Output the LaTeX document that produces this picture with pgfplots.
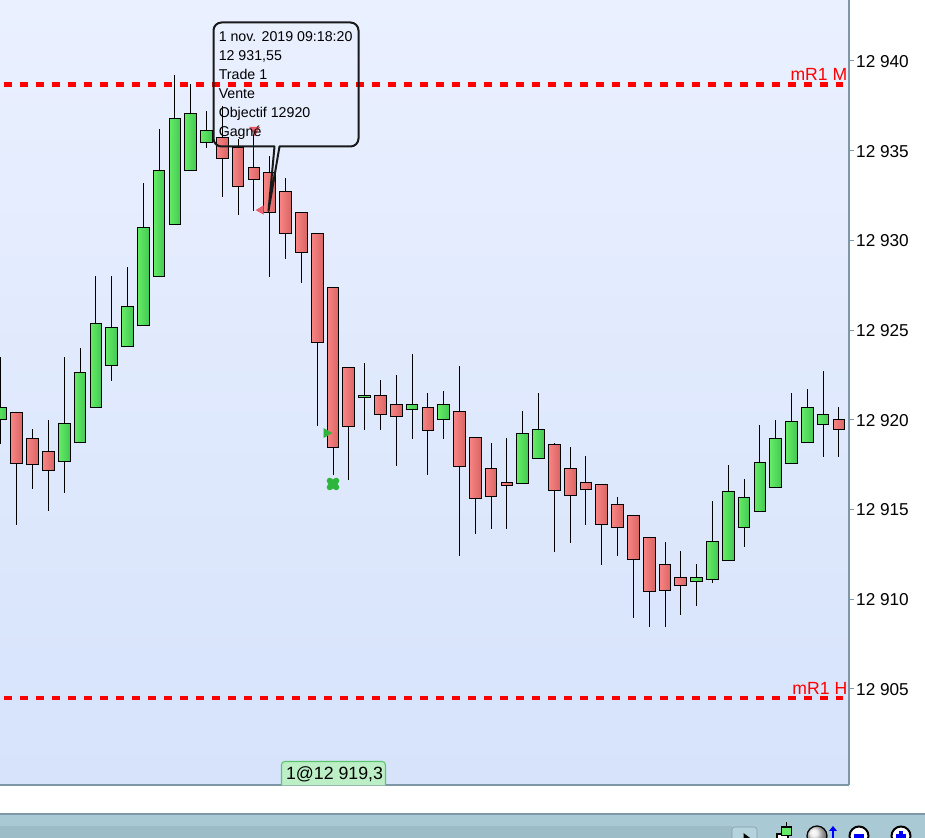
\documentclass[border=0pt]{standalone}
\usepackage{pgfplots}
\pgfplotsset{compat=1.18}
\usepackage{fontspec}
\setmainfont{Liberation Sans}
\definecolor{axisc}{HTML}{7E97A6}
\definecolor{bgtop}{HTML}{EAF0FF}
\definecolor{bgbot}{HTML}{D6E3FB}
\definecolor{rL}{HTML}{F98484}
\definecolor{rR}{HTML}{D86464}
\definecolor{gL}{HTML}{66EC66}
\definecolor{gR}{HTML}{42C852}
\definecolor{lvl}{HTML}{FF0000}
\definecolor{tradeg}{HTML}{2DB53C}
\definecolor{trader}{HTML}{E8505C}
\definecolor{barc}{HTML}{A9CAD5}
\definecolor{lbF}{HTML}{BDEFC7}
\definecolor{lbE}{HTML}{5DC66B}
\definecolor{tbdark}{HTML}{9CBCC7}
\definecolor{btn}{HTML}{B4D3DD}
\definecolor{btnD}{HTML}{7F9AA8}
\definecolor{ballc}{HTML}{E8E8E8}
\newcommand\candle[6]{%
  \pgfmathsetmacro\xl{#1-0.37}\pgfmathsetmacro\xr{#1+0.37}%
  \addplot[black,line width=.75pt,forget plot] coordinates {(#1,#4)(#1,#5)};
  \addplot[draw=black,line width=.75pt,left color=#6L,right color=#6R,forget plot]
    coordinates {(\xl,#2)(\xr,#2)(\xr,#3)(\xl,#3)} --cycle;
}
\begin{document}
\begin{tikzpicture}
\path[use as bounding box] (0pt,0pt) rectangle (693.75pt,628.5pt);
\begin{axis}[
  at={(0pt,39.75pt)}, anchor=south west,
  scale only axis, width=636.75pt, height=588.75pt,
  xmin=-0.0632, xmax=53.637, ymin=12899.64, ymax=12943.40,
  axis x line=bottom, axis y line=right,
  axis line style={-,draw=axisc,line width=.8pt},
  xtick=\empty,
  ytick={12905,12910,12915,12920,12925,12930,12935,12940},
  tick align=outside, major tick length=3.4pt,
  y tick style={draw=axisc,line width=.75pt},
  scaled y ticks=false,
  /pgf/number format/.cd, 1000 sep={\ }, assume math mode=true, /tikz/.cd,
  yticklabel style={font=\fontsize{12.9}{15}\selectfont,inner sep=0pt,xshift=1.8pt,yshift=-.4pt,text=black},
  axis background/.style={top color=bgtop,bottom color=bgbot},
]
\candle{0}{12920.71}{12920.04}{12923.50}{12918.65}{g}
\candle{1}{12920.38}{12917.54}{12920.38}{12914.14}{r}
\candle{2}{12918.93}{12917.48}{12919.49}{12916.14}{r}
\candle{3}{12918.21}{12917.15}{12919.99}{12914.92}{r}
\candle{4}{12919.77}{12917.70}{12923.50}{12915.92}{g}
\candle{5}{12922.66}{12918.76}{12924.00}{12918.76}{g}
\candle{6}{12925.34}{12920.71}{12928.02}{12920.71}{g}
\candle{7}{12925.12}{12923.00}{12928.02}{12922.16}{g}
\candle{8}{12926.34}{12924.06}{12928.52}{12924.06}{g}
\candle{9}{12930.69}{12925.23}{12933.20}{12925.23}{g}
\candle{10}{12933.92}{12927.96}{12936.21}{12927.96}{g}
\candle{11}{12936.77}{12930.91}{12939.22}{12930.91}{g}
\candle{12}{12937.10}{12933.87}{12938.72}{12933.87}{g}
\candle{13}{12936.10}{12935.48}{12937.21}{12935.15}{g}
\candle{14}{12935.76}{12934.54}{12937.49}{12932.42}{r}
\candle{15}{12935.15}{12933.03}{12935.65}{12931.42}{r}
\candle{16}{12934.09}{12933.42}{12936.15}{12931.64}{r}
\candle{17}{12933.76}{12931.58}{12934.70}{12927.96}{r}
\candle{18}{12932.70}{12930.36}{12933.48}{12928.96}{r}
\candle{19}{12931.53}{12929.30}{12931.53}{12927.63}{r}
\candle{20}{12930.41}{12924.28}{12930.41}{12919.65}{r}
\candle{21}{12927.35}{12918.43}{12927.35}{12916.92}{r}
\candle{22}{12922.89}{12919.60}{12922.89}{12916.64}{r}
\candle{23}{12921.38}{12921.22}{12923.17}{12919.43}{g}
\candle{24}{12921.33}{12920.32}{12922.22}{12919.43}{r}
\candle{25}{12920.83}{12920.16}{12922.50}{12917.42}{r}
\candle{26}{12920.83}{12920.55}{12923.67}{12918.93}{g}
\candle{27}{12920.66}{12919.38}{12921.49}{12916.92}{r}
\candle{28}{12920.83}{12919.99}{12921.61}{12918.93}{g}
\candle{29}{12920.44}{12917.42}{12923.00}{12912.41}{r}
\candle{30}{12918.99}{12915.59}{12918.99}{12913.63}{r}
\candle{31}{12917.26}{12915.70}{12918.71}{12913.91}{r}
\candle{32}{12916.48}{12916.31}{12918.99}{12913.91}{r}
\candle{33}{12919.21}{12916.42}{12920.49}{12916.42}{g}
\candle{34}{12919.43}{12917.82}{12921.49}{12917.82}{g}
\candle{35}{12918.60}{12916.03}{12918.71}{12912.63}{r}
\candle{36}{12917.31}{12915.75}{12918.48}{12913.13}{r}
\candle{37}{12916.53}{12916.14}{12917.98}{12914.14}{r}
\candle{38}{12916.37}{12914.14}{12916.37}{12911.91}{r}
\candle{39}{12915.25}{12913.97}{12915.70}{12912.41}{r}
\candle{40}{12914.64}{12912.19}{12914.64}{12908.95}{r}
\candle{41}{12913.41}{12910.40}{12913.41}{12908.45}{r}
\candle{42}{12911.91}{12910.46}{12913.19}{12908.45}{r}
\candle{43}{12911.18}{12910.74}{12912.69}{12909.12}{r}
\candle{44}{12911.18}{12910.96}{12911.96}{12909.62}{g}
\candle{45}{12913.19}{12911.07}{12915.47}{12910.90}{g}
\candle{46}{12915.98}{12912.13}{12917.48}{12912.13}{g}
\candle{47}{12915.64}{12914.02}{12916.70}{12912.91}{g}
\candle{48}{12917.59}{12914.86}{12919.71}{12914.86}{g}
\candle{49}{12918.93}{12916.20}{12919.99}{12916.20}{g}
\candle{50}{12919.93}{12917.54}{12921.49}{12917.54}{g}
\candle{51}{12920.71}{12918.76}{12921.72}{12918.76}{g}
\candle{52}{12920.32}{12919.71}{12922.72}{12917.93}{g}
\candle{53}{12920.04}{12919.43}{12920.71}{12917.93}{r}
% level lines
\addplot[lvl,line width=3.1pt,dash pattern=on 6pt off 6pt,dash phase=9pt,forget plot] coordinates {(-0.0632,12938.69)(53.26,12938.69)};
\addplot[lvl,line width=3.1pt,dash pattern=on 6pt off 6pt,dash phase=9pt,forget plot] coordinates {(-0.0632,12904.49)(53.26,12904.49)};
% trade markers
\addplot[only marks,mark=triangle*,mark size=4.2pt,forget plot,
  mark options={rotate=180,fill=trader,draw=trader,fill opacity=.85}] coordinates {(16.05,12936.15)};
\addplot[only marks,mark=triangle*,mark size=3.6pt,forget plot,
  mark options={rotate=90,fill=trader,draw=trader,fill opacity=.85}] coordinates {(16.45,12931.69)};
\addplot[only marks,mark=triangle*,mark size=3.8pt,forget plot,
  mark options={rotate=-90,fill=tradeg,draw=tradeg}] coordinates {(20.59,12919.26)};
\addplot[only marks,mark=x,mark size=3.4pt,forget plot,
  mark options={draw=tradeg,line width=4.6pt,line cap=round}] coordinates {(21.0,12916.42)};
\end{axis}
\begin{scope}[x=.75pt,y=-.75pt,shift={(0pt,628.5pt)}]
  % level labels
  \node[anchor=east,inner sep=0pt,text=lvl,font=\fontsize{13.2}{15}\selectfont] at (847.5,74.5) {mR1 M};
  \node[anchor=east,inner sep=0pt,text=lvl,font=\fontsize{13.2}{15}\selectfont] at (847.5,688) {mR1 H};
  % callout
  \draw[black!90,line width=1.5pt,line join=round,rounded corners=6pt]
    (286,22.5) -- (358.5,22.5) -- (358.5,146.5) [sharp corners] -- (279.5,146.5) -- (268.5,211) -- (274.5,146.5)
    [rounded corners=6pt] -- (213.5,146.5) -- (213.5,22.5) -- cycle;
  \begin{scope}[every node/.style={anchor=base west,inner sep=0pt,font=\fontsize{10.65}{13}\selectfont,text=black}]
    \node at (218.5,42) {1 nov. 2019 09:18:20};
    \node at (218.5,61) {12 931,55};
    \node at (218.5,80) {Trade 1};
    \node at (218.5,99) {Vente};
    \node at (218.5,118) {Objectif 12920};
    \node at (218.5,137) {Gagné};
  \end{scope}
  % trade label
  \fill[lbF,rounded corners=2.5pt] (281.5,785.5) [sharp corners] -- (281.5,770) [rounded corners=2.5pt]
    -- (281.5,761.5) -- (385.5,761.5) -- (385.5,770) [sharp corners] -- (385.5,785.5) -- cycle;
  \draw[lbE,line width=.8pt,rounded corners=2.5pt] (281.5,785.5) -- (281.5,761.5) -- (385.5,761.5) -- (385.5,785.5);
  \node[anchor=base,inner sep=0pt,font=\fontsize{13.3}{15}\selectfont,text=black] at (334.5,780) {1@12 919,3};
  % bottom toolbar
  \fill[barc] (0,814) rectangle (925,838);
  \fill[tbdark] (0,826) rectangle (732,838);
  \draw[axisc,line width=.8pt] (0,814) -- (925,814);
  \begin{scope}
    \clip (0,814) rectangle (925,838);
    \fill[btn,draw=btnD,rounded corners=2pt] (732,827) rectangle (757,845);
    \fill[black] (743.5,833) -- (750,838) -- (743.5,843) -- cycle;
    \draw[black] (786,822) -- (786,828);
    \fill[white,draw=black,line width=.9pt] (777,845) -- (777,834) -- (788,834) -- (788,845) -- cycle;
    \fill[gL,draw=black,line width=.9pt] (781.5,827) rectangle (791.5,835.5);
    \shade[ball color=ballc] (817,836) circle (10);
    \draw[black,line width=.9pt] (817,836) circle (10);
    \draw[blue,line width=1.3pt] (833,830) -- (833,845);
    \fill[blue] (829,831) -- (833,826) -- (837,831) -- cycle;
    \draw[black,line width=1.5pt,fill=white] (859,836) circle (9.5);
    \fill[blue] (854,834.5) rectangle (864,838);
    \draw[black,line width=1.5pt,fill=white] (901,836) circle (9.5);
    \fill[blue] (896,834.5) rectangle (906,838);
    \fill[blue] (899.2,831) rectangle (902.8,842);
  \end{scope}
\end{scope}
\end{tikzpicture}
\end{document}
